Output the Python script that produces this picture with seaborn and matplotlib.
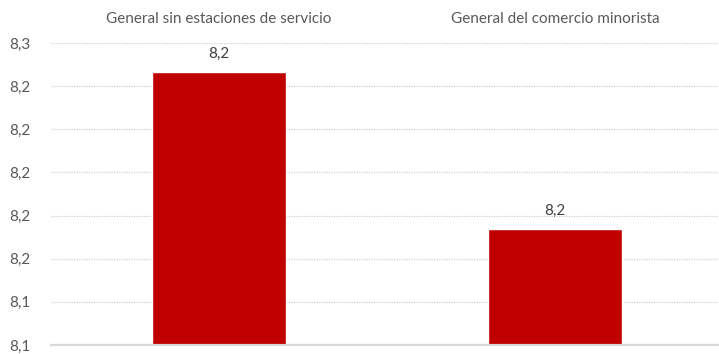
import matplotlib
matplotlib.use("Agg")
import matplotlib.pyplot as plt
import seaborn as sns
import pandas as pd
from matplotlib.ticker import FuncFormatter

categories = ["General sin estaciones de servicio", "General del comercio minorista"]
values = [8.2466, 8.1738]
y_ticks = [8.12, 8.14, 8.16, 8.18, 8.20, 8.22, 8.24, 8.26]

sns.set_theme(style="white")
plt.rcParams["font.family"] = ["Lato", "DejaVu Sans"]

df = pd.DataFrame({"cat": categories, "val": values})

fig = plt.figure(figsize=(7.19, 3.54), dpi=100)
ax = fig.add_axes([51 / 719, 9 / 354, 667 / 719, 302 / 354])

sns.barplot(data=df, x="cat", y="val", color="#c00000", width=0.4,
            saturation=1, ax=ax)

ax.set_ylim(8.12, 8.26)
ax.set_xlim(-0.5, 1.485)
ax.set_yticks(y_ticks)
ax.yaxis.set_major_formatter(FuncFormatter(lambda v, p: f"{v:.1f}".replace(".", ",")))
ax.tick_params(axis="y", length=0, pad=15, labelsize=11, labelcolor="#595959")

ax.xaxis.tick_top()
ax.tick_params(axis="x", length=0, pad=12, labelsize=11, labelcolor="#595959")
ax.set_xlabel("")
ax.set_ylabel("")

ax.grid(axis="y", color="#d0d0d0", linestyle=(0, (1, 1)), linewidth=0.9)
ax.set_axisbelow(True)
for s in ["top", "left", "right"]:
    ax.spines[s].set_visible(False)
ax.spines["bottom"].set_color("#d9d9d9")
ax.spines["bottom"].set_linewidth(1.6)

labels = [f"{v:.1f}".replace(".", ",") for v in values]
ax.bar_label(ax.containers[0], labels=labels, padding=8, fontsize=11, color="#404040")

plt.savefig("out.png", dpi=100)
